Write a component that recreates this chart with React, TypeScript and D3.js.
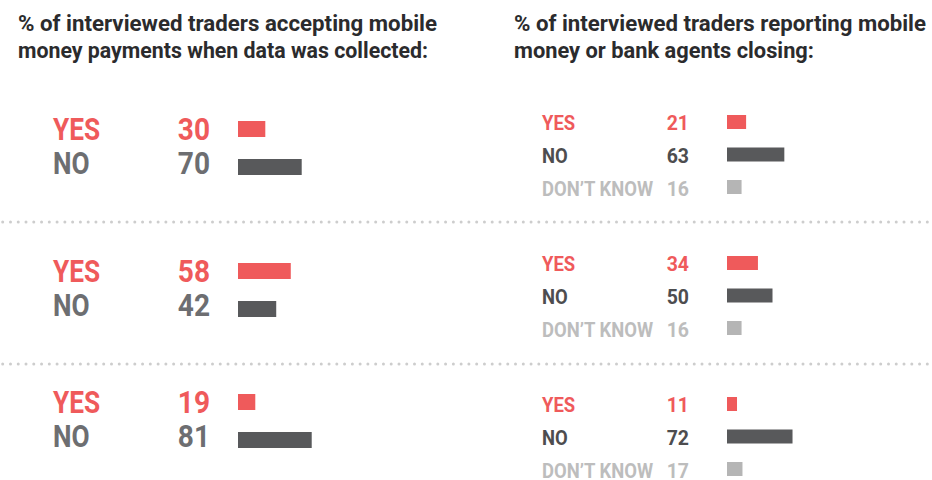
import React from "react";
import * as d3 from "d3";

const leftTitle = ["% of interviewed traders accepting mobile", "money payments when data was collected:"];
const rightTitle = ["% of interviewed traders reporting mobile", "money or bank agents closing:"];

const leftCategories = ["YES", "NO"];
const leftValues = [
  [30, 70],
  [58, 42],
  [19, 81],
];

const rightCategories = ["YES", "NO", "DON\u2019T KNOW"];
const rightValues = [
  [21, 63, 16],
  [34, 50, 16],
  [11, 72, 17],
];

const FONT = "Roboto, 'DejaVu Sans Condensed', sans-serif";
const RED = "#ef5a5b";
const DARK_BAR = "#58595b";
const LIGHT_BAR = "#b5b5b5";

const leftTextColors = [RED, "#6d6e71"];
const leftBarColors = [RED, DARK_BAR];
const rightTextColors = [RED, "#4d4d4f", "#bdbdbd"];
const rightBarColors = [RED, DARK_BAR, LIGHT_BAR];

function SText(props: {
  x: number;
  y: number;
  sx: number;
  size: number;
  fill: string;
  anchor?: string;
  children: React.ReactNode;
}) {
  return (
    <text
      transform={`translate(${props.x},${props.y}) scale(${props.sx},1)`}
      fontSize={props.size}
      fontWeight={700}
      fill={props.fill}
      textAnchor={props.anchor || "start"}
    >
      {props.children}
    </text>
  );
}

export default function App() {
  const W = 932;
  const H = 480;
  const x = d3.scaleLinear().domain([0, 100]).range([0, 91]);

  const leftGroupY = [121, 263, 394];
  const rightGroupY = [115, 256, 397];
  const separators = [222, 364];
  const leftTitleWidths = [419, 410];
  const rightTitleWidths = [412, 300];

  const dots = d3.range(2.7, W, 7.77);

  return (
    <svg
      width={W}
      height={H}
      style={{ position: "absolute", left: 0, top: 0, background: "#fff" }}
      fontFamily={FONT}
    >
      {/* titles */}
      {leftTitle.map((t, i) => (
        <text
          key={"lt" + i}
          x={18}
          y={31 + i * 27}
          fontSize={22.5}
          fontWeight={700}
          fill="#2b2b2d"
          textLength={leftTitleWidths[i]}
          lengthAdjust="spacingAndGlyphs"
        >
          {t}
        </text>
      ))}
      {rightTitle.map((t, i) => (
        <text
          key={"rt" + i}
          x={514}
          y={31 + i * 27}
          fontSize={22.5}
          fontWeight={700}
          fill="#2b2b2d"
          textLength={rightTitleWidths[i]}
          lengthAdjust="spacingAndGlyphs"
        >
          {t}
        </text>
      ))}

      {/* separators */}
      {separators.map((sy, si) => (
        <g key={"sep" + si}>
          {dots.map((dx, di) => (
            <circle key={di} cx={dx} cy={sy} r={1.5} fill="#cdcdcd" />
          ))}
        </g>
      ))}

      {/* left groups */}
      {leftValues.map((vals, gi) => {
        const y0 = leftGroupY[gi];
        return (
          <g key={"lg" + gi}>
            {vals.map((v, ri) => (
              <g key={ri}>
                <SText x={53} y={y0 + 19 + ri * 34} sx={0.86} size={30.5} fill={leftTextColors[ri]}>
                  {leftCategories[ri]}
                </SText>
                <SText x={210} y={y0 + 19 + ri * 34} sx={0.92} size={30.5} fill={leftTextColors[ri]} anchor="end">
                  {v}
                </SText>
                <rect x={238} y={y0 + ri * 38} width={x(v)} height={16} fill={leftBarColors[ri]} />
              </g>
            ))}
          </g>
        );
      })}

      {/* right groups */}
      {rightValues.map((vals, gi) => {
        const y0 = rightGroupY[gi];
        return (
          <g key={"rg" + gi}>
            {vals.map((v, ri) => (
              <g key={ri}>
                <SText x={542} y={y0 + 15 + ri * 33} sx={0.9} size={20.5} fill={rightTextColors[ri]}>
                  {rightCategories[ri]}
                </SText>
                <SText x={689} y={y0 + 15 + ri * 33} sx={0.95} size={20.5} fill={rightTextColors[ri]} anchor="end">
                  {v}
                </SText>
                <rect x={727} y={y0 + ri * 32.5} width={x(v)} height={14} fill={rightBarColors[ri]} />
              </g>
            ))}
          </g>
        );
      })}
    </svg>
  );
}
